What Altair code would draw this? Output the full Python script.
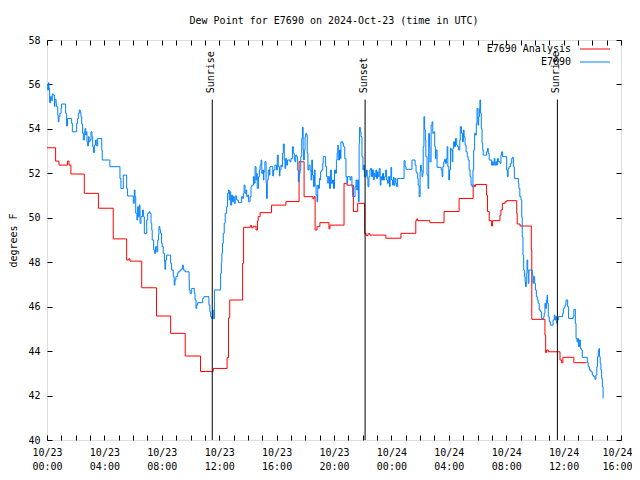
import altair as alt
import pandas as pd

# ---- data (time in minutes since 2024-10-23 00:00 UTC, dew point in degrees F) ----
analysis_t = [0, 36, 50, 86, 92, 100, 156, 215, 277, 333, 341, 347, 396, 458, 517, 578, 642, 695,
              753, 759, 764, 818, 822, 850, 856, 862, 874, 880, 883, 891, 939, 999, 1054, 1075,
              1112, 1116, 1121, 1129, 1141, 1179, 1183, 1242, 1254, 1281, 1299, 1328, 1334, 1342,
              1350, 1417, 1480, 1542, 1546, 1550, 1601, 1660, 1723, 1782, 1788, 1792, 1838, 1842,
              1849, 1859, 1863, 1894, 1898, 1904, 1915, 1922, 1964, 1966, 1978, 2025, 2027, 2082,
              2085, 2089, 2096, 2145, 2152, 2157, 2203, 2256]
analysis_v = [53.15, 52.55, 52.37, 52.55, 52.37, 51.97, 51.1, 50.43, 49.05, 48.1, 48.15, 48.05, 46.85,
              45.58, 44.8, 43.78, 43.08, 43.22, 43.7, 45.5, 46.3, 47.95, 49.57, 49.65, 49.55, 49.62,
              49.45, 49.85, 50.05, 50.23, 50.57, 50.73, 52.52, 50.95, 50.85, 50.95, 49.45, 49.6,
              49.78, 49.5, 49.67, 51.55, 51.47, 50.28, 50.65, 49.3, 49.2, 49.28, 49.22, 49.08, 49.3,
              49.87, 49.95, 49.87, 49.78, 50.28, 50.87, 51.47, 51.4, 51.5, 51.02, 50.28, 49.87,
              49.63, 49.87, 50.12, 50.35, 50.65, 50.72, 50.77, 50.2, 49.72, 49.63, 48.55, 45.43,
              44.72, 43.93, 44.05, 43.97, 43.6, 43.47, 43.72, 43.48, 43.48]

obs_t = [0, 3, 6, 8, 11, 15, 20, 22, 26, 31, 33, 38, 40, 45, 47, 50, 54, 59, 61, 78, 82, 86, 103, 106,
         124, 128, 131, 135, 139, 142, 145, 149, 152, 156, 159, 162, 164, 167, 170, 173, 176, 180,
         184, 188, 191, 194, 198, 203, 208, 212, 229, 231, 263, 305, 309, 319, 333, 337, 361, 365,
         368, 371, 376, 379, 382, 386, 389, 393, 399, 403, 407, 417, 421, 426, 431, 435, 438, 440,
         446, 450, 454, 459, 463, 466, 468, 472, 475, 479, 482, 486, 491,
         493, 496, 500, 517, 521, 528, 532, 535, 539, 545, 549, 556, 563, 567, 570, 577, 594, 595,
         598, 605, 616, 619, 623, 626, 630, 651, 656, 677, 681, 684, 688, 693, 695, 700, 726, 729,
         731, 734, 737, 741, 745, 751, 755, 759, 762, 765, 768, 772, 776, 779, 783, 787, 793, 800,
         814, 818, 821, 824, 828, 832, 835, 839, 843, 849, 853, 857, 863, 867, 870, 874, 877, 879,
         884, 888, 891, 895, 898, 902, 905, 907, 911, 916, 918, 921, 925, 930, 932, 944, 947, 953,
         960, 963, 967, 972,
         974, 978, 981, 985, 988, 992, 995, 998, 1002, 1006, 1016, 1020, 1026, 1030, 1034, 1037,
         1040, 1044, 1048, 1051, 1054, 1058, 1061, 1065, 1068, 1071, 1073, 1076, 1079, 1082, 1086,
         1088, 1091, 1095, 1100, 1104, 1107, 1110, 1114, 1118, 1121, 1125, 1129, 1132, 1135, 1139,
         1142, 1144, 1148, 1153, 1155, 1165, 1169, 1174, 1176, 1181, 1185, 1189, 1194, 1198, 1202,
         1206, 1210, 1213, 1216, 1218, 1223, 1227, 1229, 1236, 1240, 1245, 1250, 1254, 1257, 1267,
         1271, 1275, 1278, 1288, 1292, 1295, 1299, 1302, 1305, 1307, 1310, 1313, 1317, 1321, 1324,
         1327, 1332, 1336, 1339, 1342, 1346, 1350, 1353, 1357, 1361, 1366, 1368, 1371, 1375, 1378,
         1382, 1385, 1389, 1393, 1396, 1399, 1403, 1407, 1412, 1416, 1420, 1424, 1427, 1432, 1435,
         1438, 1441, 1445, 1449,
         1451, 1455, 1459, 1462, 1466, 1493, 1497, 1501, 1526, 1539, 1543, 1546, 1550, 1552, 1556,
         1560, 1562, 1565, 1568, 1571, 1573, 1576, 1579, 1582, 1584, 1589, 1593, 1596, 1599, 1601,
         1606, 1610, 1613, 1617, 1621, 1624, 1627, 1631, 1648, 1652, 1655, 1659, 1662, 1666, 1670,
         1673, 1676, 1680, 1683, 1687, 1690, 1694, 1697, 1700, 1704, 1708, 1713, 1717, 1721, 1726,
         1728, 1733, 1737, 1741, 1744, 1748, 1752, 1757, 1761, 1765, 1769, 1773, 1777, 1781, 1784,
         1788, 1792, 1795, 1798, 1802, 1805, 1808, 1810, 1813, 1816, 1819, 1822, 1824, 1838, 1842,
         1845, 1849, 1859, 1863, 1866, 1870, 1873, 1877, 1880, 1884, 1887, 1894, 1898, 1901, 1905,
         1922,
         1925, 1928, 1932, 1938, 1943, 1946, 1950, 1954, 1971, 1973, 1977, 1982, 1985, 1987, 1990,
         1993, 1996, 1999, 2001, 2004, 2007, 2010, 2012, 2015, 2029, 2032, 2035, 2039, 2042, 2046,
         2050, 2054, 2058, 2063, 2068, 2077, 2079, 2082, 2085, 2088, 2091, 2093, 2096, 2100, 2105,
         2116, 2121, 2124, 2127, 2131, 2134, 2138, 2156, 2159, 2163, 2166, 2170, 2177, 2181, 2200,
         2203, 2209, 2212, 2216, 2219, 2222, 2226, 2230, 2234, 2238, 2259, 2263, 2268, 2274, 2280,
         2285, 2291, 2295, 2299, 2302, 2305, 2308, 2310, 2313, 2316, 2319, 2322, 2325]
obs_v = [56.0, 55.75, 56.08, 55.82, 55.18, 55.45, 55.27, 55.57, 55.52, 55.0, 55.33, 55.15, 55.0, 54.62,
         54.32, 54.55, 54.7, 54.92, 55.12, 54.7, 54.13, 54.47, 54.25, 53.87, 54.25, 54.47, 54.7, 54.85,
         54.73, 54.55, 54.22, 53.8, 53.5, 53.87, 54.02, 53.72, 53.87, 53.42, 53.23, 53.65, 53.42, 53.5,
         53.87, 53.65, 53.2, 52.93, 53.27, 53.5, 53.23, 53.57, 53.05, 52.6, 52.3, 51.77, 51.32, 51.92,
         51.32, 50.98, 50.65, 51.25, 50.95, 50.2, 49.9, 50.5, 50.05, 50.58, 49.75, 50.05, 50.35, 50.05,
         49.3, 49.9, 50.2, 50.27, 50.2, 49.75, 49.45, 49.0, 48.55, 48.4, 48.7, 48.47, 49.0, 49.22, 49.6,
         49.45, 49.3, 48.85, 48.7, 48.4, 48.02,
         47.68, 48.1, 48.32, 47.95, 47.65, 47.35, 46.97, 47.2, 47.35, 47.5, 47.57, 47.65, 47.72, 47.87,
         47.65, 47.57, 47.2, 46.75, 46.6, 46.82, 46.6, 46.3, 45.92, 46.07, 46.18, 46.38, 46.45, 46.07,
         45.77, 45.55, 45.47, 45.85, 45.47, 46.75, 47.5, 47.95, 48.4, 48.85, 49.3, 49.75, 50.2, 50.5,
         51.1, 51.25, 50.8, 51.17, 50.57, 51.02, 50.72, 50.95, 50.65, 50.98, 50.8, 50.68, 50.95, 50.87,
         51.1, 51.47, 51.1, 51.25, 50.95, 51.02, 50.72, 50.95, 51.4, 51.47, 51.85, 51.55, 52.3, 51.7,
         52.0, 51.32, 51.85, 52.15, 52.37, 52.6, 52.0, 52.15, 51.7, 52.07, 52.52, 51.55, 50.87, 51.7,
         52.15, 51.92, 52.3, 51.88, 52.15, 52.37, 52.15, 52.82, 52.3, 51.88,
         52.15, 52.37, 52.3, 52.9, 53.32, 52.6, 52.22, 52.67, 52.37, 52.6, 52.52, 52.67, 53.2, 52.9,
         52.6, 52.52, 52.82, 52.75, 52.15, 51.63, 52.0, 52.15, 52.75, 53.57, 54.07, 53.05, 52.6, 53.05,
         53.65, 53.8, 53.72, 52.9, 52.15, 52.37, 52.15, 51.7, 52.6, 51.92, 51.4, 52.15, 51.47, 51.02,
         50.72, 51.47, 51.32, 51.77, 51.7, 52.07, 52.15, 52.45, 52.75, 52.3, 51.85, 51.55, 51.85, 51.32,
         52.15, 51.55, 51.7, 51.32, 52.15, 52.0, 52.6, 52.9, 53.27, 52.6, 53.05, 52.67, 53.42, 53.35,
         53.2, 52.67, 51.85, 51.55, 51.85, 51.7, 51.85, 51.4, 50.95, 51.4, 51.7, 51.25, 51.7, 50.72,
         53.35, 54.07, 53.87, 53.65, 52.75, 52.15, 52.37, 51.85, 51.88, 52.15, 51.77, 51.4, 51.85,
         52.15, 52.22, 51.85, 52.15, 51.7, 52.0, 51.85, 52.15, 51.77, 52.07, 51.85, 52.22, 51.47, 51.85,
         51.7, 52.0, 51.7, 51.85, 52.15, 51.7, 51.55, 51.85, 51.4, 51.85, 52.27, 51.7, 51.47, 51.82,
         51.47, 51.77, 51.55, 51.4, 51.77, 52.57, 52.3, 52.18, 52.6, 52.37, 52.07, 52.0, 51.77, 51.47,
         50.95, 52.07, 52.37, 52.15, 51.85, 52.0, 53.2, 54.55, 53.95, 53.5, 52.75, 51.92, 51.32, 53.8,
         53.2, 52.52, 54.17, 54.32, 53.8, 53.87, 53.2, 52.67, 53.05, 52.27, 52.15, 51.85, 52.3, 52.52,
         52.63, 52.45, 52.67, 53.2, 52.3, 51.7, 52.15, 53.12, 53.05, 52.52, 53.12, 53.42, 53.2, 53.57,
         53.27, 53.2, 53.05, 53.5, 54.1, 53.8, 53.42, 53.95, 53.65, 53.27, 52.97, 52.75, 52.6, 52.15,
         51.85, 51.47, 51.4, 52.15, 53.05, 53.8, 53.72, 54.25, 54.92, 54.17, 54.55, 54.92, 55.3, 54.7,
         54.02, 53.35, 53.05, 52.82, 52.97, 53.12, 52.9, 52.6, 52.37, 52.52, 52.37, 52.67, 52.37,
         52.52, 52.37, 52.67, 52.52, 52.45, 52.82, 52.97, 52.75, 52.15,
         51.85, 52.22, 52.3, 52.45, 52.67, 52.72, 52.3, 51.77, 51.55, 51.32, 50.95, 50.8, 50.05, 49.15,
         48.32, 47.65, 47.35, 47.12, 46.9, 47.5, 48.1, 47.65, 47.05, 47.65, 47.42, 47.05, 47.35, 47.05,
         46.75, 46.45, 46.3, 46.15, 45.85, 45.77, 45.47, 45.55, 45.7, 46.15, 45.92, 46.3, 46.52, 46.15,
         45.55, 45.32, 45.17, 45.4, 45.62, 45.4, 45.55, 45.25, 45.4, 45.55, 45.7, 45.92, 45.97, 46.07,
         46.3, 46.0, 45.47, 45.55, 45.88, 45.25, 44.57, 44.42, 44.57, 44.2, 44.5, 44.12, 44.05, 43.72,
         43.48, 43.3, 43.15, 43.07, 42.92, 42.85, 42.73, 42.92, 43.3, 43.75, 44.02, 44.12, 43.75, 43.45,
         43.15, 42.77, 42.4, 41.87]

event_t = [691, 1330, 2134]
event_label = ["Sunrise", "Sunset", "Sunrise"]
event_top = 55.32
event_text_at = 55.6

series_names = ["E7690 Analysis", "E7690"]
series_colors = ["#ff0000", "#0080ff"]

x_ticks = list(range(0, 2401, 60))
y_ticks = list(range(40, 59, 2))

FONT = "DejaVu Sans Mono"

analysis_df = pd.DataFrame({"t": analysis_t, "v": analysis_v})
obs_df = pd.DataFrame({"t": obs_t, "v": obs_v})
event_df = pd.DataFrame({"t": event_t, "label": event_label})

xscale = alt.Scale(domain=[0, 2400], nice=False, zero=False)
yscale = alt.Scale(domain=[40, 58], nice=False, zero=False)

label_expr = ("datum.value % 240 == 0 ? [(datum.value < 1440 ? '10/23' : '10/24'), "
              "(floor(datum.value/60) % 24 < 10 ? '0' : '') + (floor(datum.value/60) % 24) + ':00'] : ''")

inward = alt.ExprRef(expr="-5")

x_bottom = alt.Axis(orient="bottom", values=x_ticks, labelExpr=label_expr, tickSize=inward,
                    labelPadding=12, labelOverlap=False, labelFlush=False, labelBound=False,
                    labelLineHeight=14, labelBaseline="top", title=None, grid=False, domain=False,
                    labelFont=FONT, labelFontSize=10, labelColor="black", tickColor="black",
                    labelOffset={"condition": {"test": "datum.value >= 2400", "value": -4},
                                 "value": 0})
y_left = alt.Axis(orient="left", values=y_ticks, tickSize=inward, labelPadding=12,
                  title="degrees F", titleFont=FONT, titleFontSize=10, titleFontWeight="normal",
                  titleAngle=270, titleX=-34, titleY=200, titleAlign="center", titleBaseline="middle",
                  titleColor="black", grid=False, domain=False, labelFont=FONT, labelFontSize=10,
                  labelColor="black", tickColor="black", labelOverlap=False)
x_top = alt.Axis(orient="top", values=x_ticks, tickSize=inward, labels=False, title=None,
                 grid=False, domain=False, tickColor="black")
y_right = alt.Axis(orient="right", values=y_ticks, tickSize=inward, labels=False, title=None,
                   grid=False, domain=False, tickColor="black")

red = alt.Chart(analysis_df).mark_line(interpolate="step-after", color=series_colors[0],
                                       strokeWidth=1).encode(
    x=alt.X("t:Q", scale=xscale, axis=x_bottom),
    y=alt.Y("v:Q", scale=yscale, axis=y_left),
)

blue = alt.Chart(obs_df).mark_line(interpolate="step-after", color=series_colors[1],
                                   strokeWidth=1).encode(
    x=alt.X("t:Q", scale=xscale, axis=x_top),
    y=alt.Y("v:Q", scale=yscale, axis=y_right),
)

ev_rules = alt.Chart(event_df).mark_rule(color="black", strokeWidth=1).encode(
    x=alt.X("t:Q", scale=xscale, axis=None),
    y=alt.YDatum(event_top, scale=yscale, axis=None),
    y2=alt.Y2Datum(40),
)
ev_text = alt.Chart(event_df).mark_text(angle=270, align="left", baseline="middle", font=FONT,
                                        fontSize=10, color="black", dy=-1).encode(
    x=alt.X("t:Q", scale=xscale, axis=None),
    y=alt.YDatum(event_text_at, scale=yscale, axis=None),
    text="label:N",
)

one = alt.Data(values=[{"a": 1}])
legend_layers = []
for i, (name, col) in enumerate(zip(series_names, series_colors)):
    yy = 9 + 13 * i
    legend_layers.append(alt.Chart(one).mark_text(align="right", baseline="middle", font=FONT,
                                                  fontSize=10, color="black", text=name).encode(
        x=alt.value(524), y=alt.value(yy)))
    legend_layers.append(alt.Chart(one).mark_rule(color=col, strokeWidth=1).encode(
        x=alt.value(533), x2=alt.value(563), y=alt.value(yy)))

chart = alt.layer(red, blue, ev_rules, ev_text, *legend_layers).resolve_axis(
    x="independent", y="independent"
).properties(
    width=574, height=400,
    title=alt.TitleParams("Dew Point for E7690 on 2024-Oct-23 (time in UTC)", font=FONT,
                          fontSize=10, fontWeight="normal", anchor="middle", color="black",
                          offset=-1, baseline="bottom"),
    autosize=alt.AutoSizeParams(type="none"),
    padding={"left": 39, "top": 32, "right": 11, "bottom": 32},
).configure_view(stroke="black", strokeWidth=1).configure(background="white")

chart.save("out.html", embed_options={"renderer": "svg", "actions": False})
